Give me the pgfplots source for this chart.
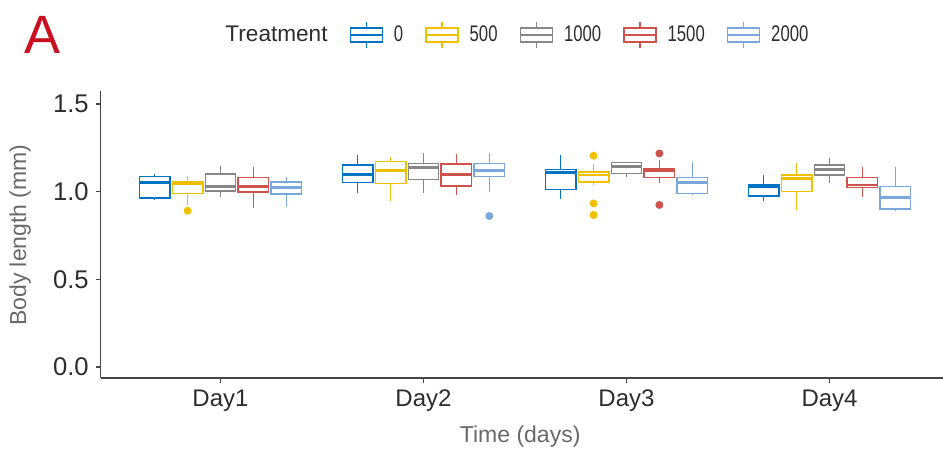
\documentclass[border=0pt]{standalone}
\usepackage{pgfplots}
\pgfplotsset{compat=1.18}
\usepgfplotslibrary{statistics}
\usepackage{fontspec}
\setmainfont{Liberation Sans}
\newfontfamily\narrow[FakeStretch=0.74]{Liberation Sans}

\definecolor{c0}{RGB}{0,115,194}
\definecolor{c1}{RGB}{239,192,0}
\definecolor{c2}{RGB}{134,134,134}
\definecolor{c3}{RGB}{205,83,76}
\definecolor{c4}{RGB}{122,166,220}
\definecolor{txt}{RGB}{45,45,45}
\definecolor{ttl}{RGB}{105,105,105}
\definecolor{axc}{RGB}{70,70,70}
\definecolor{Ared}{RGB}{200,16,30}

\pgfplotsset{
  keybox/.style={legend image code/.code={
    \draw[#1, line width=0.7pt, fill=white] (0pt,-3.5pt) rectangle (16pt,3.5pt);
    \draw[#1, line width=0.7pt] (0pt,0pt) -- (16pt,0pt);
    \draw[#1, line width=0.7pt] (8pt,-6.5pt) -- (8pt,-3.5pt) (8pt,3.5pt) -- (8pt,6.5pt);
  }},
  bx/.style={draw=#1, line width=0.75pt, solid, mark=*, mark size=1.6pt,
    mark options={draw=#1, fill=#1, solid}, forget plot,
    boxplot/draw direction=y,
    boxplot/box extend=0.15, boxplot/whisker extend=0,
    boxplot/every box/.style={fill=white},
    boxplot/every median/.style={line width=1.4pt}},
}

\begin{document}
\begin{tikzpicture}
\path[use as bounding box] (-50.35pt,-39.5pt) rectangle (421.15pt,189pt);
\begin{axis}[
    at={(0,0)}, anchor=south west,
    scale only axis,
    width=421.15pt, height=143.5pt,
    xmin=0.41, xmax=4.559,
    ymin=-0.063, ymax=1.574,
    clip=false,
    axis lines*=left,
    axis line style={draw=axc, line width=0.8pt, -},
    tick style={draw=axc, line width=0.8pt},
    tick align=outside,
    major tick length=2.5pt,
    xtick={1,2,3,4},
    xticklabels={Day1,Day2,Day3,Day4},
    ytick={0,0.5,1,1.5},
    xticklabel style={font=\fontsize{12}{14}\selectfont, text=txt},
    yticklabel style={font=\fontsize{12.8}{14}\selectfont, text=txt,
      /pgf/number format/fixed, /pgf/number format/fixed zerofill,
      /pgf/number format/precision=1, /pgf/number format/assume math mode=true},
    xlabel={Time (days)},
    ylabel={Body length (mm)},
    label style={font=\fontsize{11.5}{13}\selectfont, text=ttl},
    xlabel style={at={(axis description cs:0.498,-0.2056)}, anchor=center},
    ylabel style={at={(axis description cs:-0.0955,0.498)}, anchor=center},
    legend columns=-1,
    legend style={draw=none, fill=none, at={(axis description cs:0.49,1.195)}, anchor=center,
      font=\fontsize{11.3}{13}\selectfont, text=txt,
      /tikz/every odd column/.append style={column sep=3.5pt},
      /tikz/every even column/.append style={column sep=9pt}},
]
% Day1
\addplot[bx=c0, boxplot prepared={draw position=0.676, lower whisker=0.955, lower quartile=0.965, median=1.05, upper quartile=1.085, upper whisker=1.10}] coordinates {};
\addplot[bx=c1, boxplot prepared={draw position=0.838, lower whisker=0.924, lower quartile=0.99, median=1.047, upper quartile=1.056, upper whisker=1.089}] coordinates {(0,0.891)};
\addplot[bx=c2, boxplot prepared={draw position=1.0, lower whisker=0.967, lower quartile=1.005, median=1.028, upper quartile=1.10, upper whisker=1.146}] coordinates {};
\addplot[bx=c3, boxplot prepared={draw position=1.162, lower whisker=0.905, lower quartile=0.999, median=1.028, upper quartile=1.081, upper whisker=1.138}] coordinates {};
\addplot[bx=c4, boxplot prepared={draw position=1.324, lower whisker=0.914, lower quartile=0.986, median=1.024, upper quartile=1.056, upper whisker=1.081}] coordinates {};
% Day2
\addplot[bx=c0, boxplot prepared={draw position=1.676, lower whisker=0.99, lower quartile=1.051, median=1.10, upper quartile=1.152, upper whisker=1.209}] coordinates {};
\addplot[bx=c1, boxplot prepared={draw position=1.838, lower whisker=0.948, lower quartile=1.047, median=1.119, upper quartile=1.171, upper whisker=1.199}] coordinates {};
\addplot[bx=c2, boxplot prepared={draw position=2.0, lower whisker=0.99, lower quartile=1.07, median=1.138, upper quartile=1.161, upper whisker=1.222}] coordinates {};
\addplot[bx=c3, boxplot prepared={draw position=2.162, lower whisker=0.98, lower quartile=1.032, median=1.10, upper quartile=1.157, upper whisker=1.214}] coordinates {};
\addplot[bx=c4, boxplot prepared={draw position=2.324, lower whisker=1.0, lower quartile=1.085, median=1.119, upper quartile=1.161, upper whisker=1.218}] coordinates {(0,0.861)};
% Day3
\addplot[bx=c0, boxplot prepared={draw position=2.676, lower whisker=0.956, lower quartile=1.013, median=1.108, upper quartile=1.127, upper whisker=1.209}] coordinates {};
\addplot[bx=c1, boxplot prepared={draw position=2.838, lower whisker=1.04, lower quartile=1.056, median=1.095, upper quartile=1.113, upper whisker=1.16}] coordinates {(0,1.205) (0,0.933) (0,0.867)};
\addplot[bx=c2, boxplot prepared={draw position=3.0, lower whisker=1.085, lower quartile=1.104, median=1.142, upper quartile=1.165, upper whisker=1.17}] coordinates {};
\addplot[bx=c3, boxplot prepared={draw position=3.162, lower whisker=1.051, lower quartile=1.081, median=1.119, upper quartile=1.133, upper whisker=1.18}] coordinates {(0,1.218) (0,0.924)};
\addplot[bx=c4, boxplot prepared={draw position=3.324, lower whisker=0.98, lower quartile=0.99, median=1.051, upper quartile=1.081, upper whisker=1.171}] coordinates {};
% Day4
\addplot[bx=c0, boxplot prepared={draw position=3.676, lower whisker=0.948, lower quartile=0.975, median=1.028, upper quartile=1.038, upper whisker=1.095}] coordinates {};
\addplot[bx=c1, boxplot prepared={draw position=3.838, lower whisker=0.895, lower quartile=1.0, median=1.075, upper quartile=1.095, upper whisker=1.161}] coordinates {};
\addplot[bx=c2, boxplot prepared={draw position=4.0, lower whisker=1.051, lower quartile=1.095, median=1.127, upper quartile=1.152, upper whisker=1.19}] coordinates {};
\addplot[bx=c3, boxplot prepared={draw position=4.162, lower whisker=0.971, lower quartile=1.024, median=1.038, upper quartile=1.081, upper whisker=1.142}] coordinates {};
\addplot[bx=c4, boxplot prepared={draw position=4.324, lower whisker=0.89, lower quartile=0.90, median=0.965, upper quartile=1.03, upper whisker=1.14}] coordinates {};

\addlegendimage{empty legend}\addlegendentry{Treatment}
\addlegendimage{keybox=c0}\addlegendentry{\narrow 0}
\addlegendimage{keybox=c1}\addlegendentry{\narrow 500}
\addlegendimage{keybox=c2}\addlegendentry{\narrow 1000}
\addlegendimage{keybox=c3}\addlegendentry{\narrow 1500}
\addlegendimage{keybox=c4}\addlegendentry{\narrow 2000}

\node[text=Ared, font=\fontsize{27}{31}\selectfont, anchor=center] at (axis description cs:-0.0685,1.195) {A};
\end{axis}
\end{tikzpicture}
\end{document}
